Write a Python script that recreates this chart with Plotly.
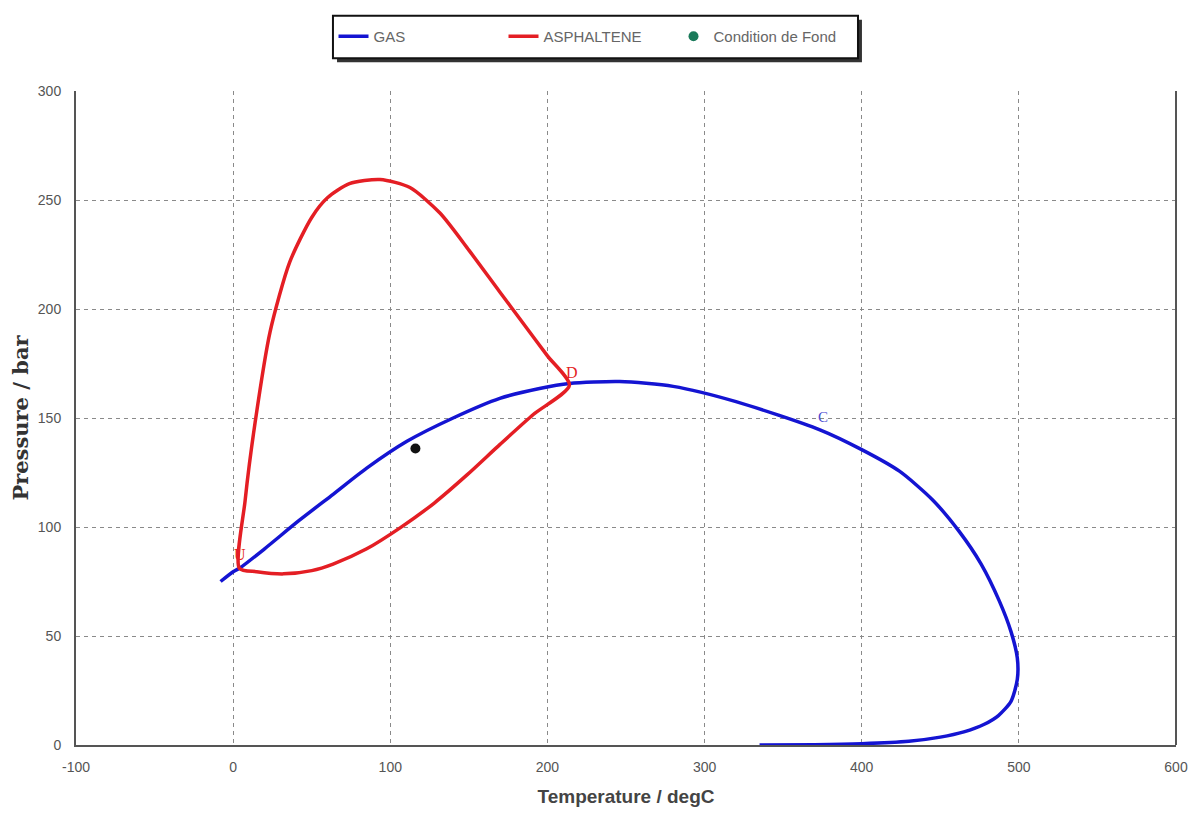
import plotly.graph_objects as go

# GAS phase envelope (Temperature degC, Pressure bar)
gas_t = [-8, 0, 4.5, 20, 42, 63.6, 85, 110.6, 140, 169.7, 195, 214, 246, 280, 320, 373, 400, 424, 445, 462, 476, 487.6, 495, 499, 499, 495, 487, 478, 465, 450, 430, 400, 370, 335]
gas_p = [75, 79.5, 81.3, 90, 103, 115, 127, 139.3, 150, 159, 163.5, 165.8, 166.7, 164.5, 157.5, 144.7, 135.5, 125.6, 112.5, 98, 83, 66, 52, 40, 30, 20, 13.5, 9.5, 6, 3.6, 1.7, 0.6, 0.15, 0]

# ASPHALTENE onset envelope (closed loop)
asp_t = [4, 15, 32, 50, 63.6, 85, 106, 128, 149, 170, 191, 214, 200, 185, 169.7, 150, 131.6, 112.5, 93.5, 74, 60, 50, 36, 23.5, 14, 7.6, 4]
asp_p = [81, 79.5, 78.5, 80, 83, 90, 99.5, 111, 124, 138, 151.6, 165, 178.5, 193, 207.8, 227, 244, 255.7, 259.4, 257.5, 251, 242, 221.5, 189.5, 148, 112, 81]

# Bottom-hole condition
fond_t = [116]
fond_p = [136]

x_ticks = [-100, 0, 100, 200, 300, 400, 500, 600]
y_ticks = [0, 50, 100, 150, 200, 250, 300]

fig = go.Figure()
fig.add_trace(go.Scatter(x=gas_t, y=gas_p, mode="lines", name="GAS",
                         line=dict(color="#1414d2", width=3.5, shape="spline", smoothing=0.7)))
fig.add_trace(go.Scatter(x=asp_t, y=asp_p, mode="lines", name="ASPHALTENE",
                         line=dict(color="#e41e24", width=3.5, shape="spline", smoothing=0.7)))
fig.add_trace(go.Scatter(x=fond_t, y=fond_p, mode="markers", name="Condition de Fond",
                         marker=dict(color="#111111", size=10), showlegend=False))
fig.add_trace(go.Scatter(x=[None], y=[None], mode="markers", name="Condition de Fond",
                         marker=dict(color="#1a7a5a", size=10)))

# point labels
fig.add_annotation(x=asp_t[11], y=asp_p[11], text="D", showarrow=False, xshift=3, yshift=13,
                   font=dict(color="#e41e24", size=16, family="Liberation Serif"))
fig.add_annotation(x=asp_t[0], y=asp_p[0], text="U", showarrow=False, xshift=1, yshift=14,
                   font=dict(color="#e41e24", size=16, family="Liberation Serif"))
fig.add_annotation(x=gas_t[15], y=gas_p[15], text="C", showarrow=False, xshift=4, yshift=13,
                   font=dict(color="#4a4ad0", size=15, family="Liberation Serif"))

# legend box with shadow
fig.add_shape(type="rect", xref="paper", yref="paper", x0=0.2373, x1=0.7145, y0=1.0439, y1=1.1091,
              fillcolor="#333333", line=dict(width=0))
fig.add_shape(type="rect", xref="paper", yref="paper", x0=0.2336, x1=0.7109, y0=1.05, y1=1.1152,
              fillcolor="white", line=dict(color="#111111", width=2))
# right frame line
fig.add_shape(type="line", xref="paper", yref="paper", x0=1, x1=1, y0=0, y1=1,
              line=dict(color="#555555", width=2))

fig.update_layout(
    width=1199, height=813,
    margin=dict(l=68, r=31, t=77, b=76),
    plot_bgcolor="white", paper_bgcolor="white",
    font=dict(family="Liberation Sans", color="#555555", size=13),
    legend=dict(orientation="h", x=0.2341, y=1.0833, xanchor="left", yanchor="middle",
                bgcolor="rgba(0,0,0,0)", borderwidth=0,
                font=dict(size=15, color="#666666"), entrywidth=125, entrywidthmode="pixels",
                itemwidth=30),
    xaxis=dict(range=[-100, 600], tickvals=x_ticks, ticktext=[str(v) for v in x_ticks],
               automargin=False,
               showgrid=True, gridcolor="#8a8a8a", griddash="4px,4px", gridwidth=1,
               showline=True, linecolor="#555555", linewidth=2, zeroline=False,
               ticks="", tickfont=dict(size=14, color="#555555"), ticklabelstandoff=8,
               title=dict(text="<b>Temperature / degC</b>", standoff=16,
                          font=dict(size=19, color="#444444", family="Liberation Sans"))),
    yaxis=dict(range=[0, 300], tickvals=y_ticks, ticktext=[str(v) for v in y_ticks],
               automargin=False,
               showgrid=True, gridcolor="#8a8a8a", griddash="4px,4px", gridwidth=1,
               showline=True, linecolor="#555555", linewidth=2, zeroline=False,
               ticks="", tickfont=dict(size=14, color="#555555"), ticklabelstandoff=10,
               title=dict(text="<b>Pressure / bar</b>", standoff=10,
                          font=dict(size=21, color="#333333", family="DejaVu Serif"))),
)

fig.write_html("out.html")
